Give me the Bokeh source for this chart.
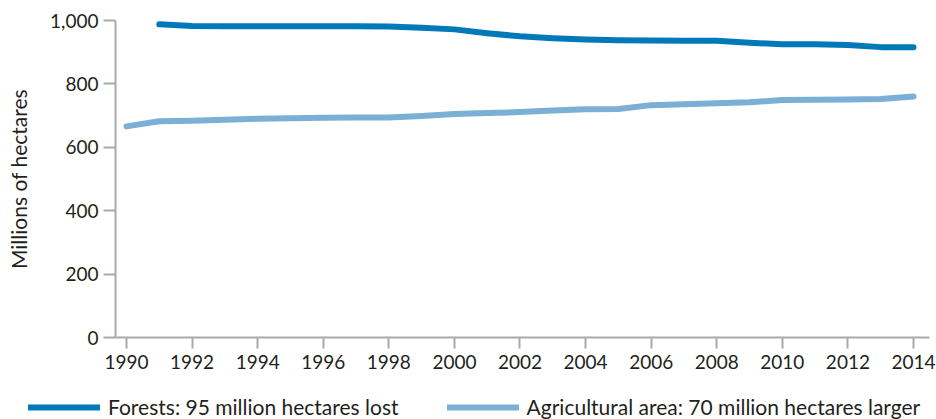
from bokeh.plotting import figure
from bokeh.layouts import column
from bokeh.models import Range1d, Legend, LegendItem, FixedTicker, NumeralTickFormatter
from bokeh.embed import file_html
from bokeh.resources import INLINE

# ---- data ----
forest_years = list(range(1991, 2015))
forest_values = [988, 983, 982, 982, 982, 982, 982, 981, 977, 972, 960, 950,
                 944, 940, 938, 937, 936, 936, 930, 925, 925, 923, 916, 916]

agri_years = list(range(1990, 2015))
agri_values = [666, 682, 684, 687, 690, 692, 693, 694, 694, 699, 705, 708, 711,
               716, 720, 721, 733, 736, 739, 742, 749, 750, 751, 752, 760]

x_ticks = list(range(1990, 2015, 2))
y_ticks = [0, 200, 400, 600, 800, 1000]

forest_label = "Forests: 95 million hectares lost"
agri_label = "Agricultural area: 70 million hectares larger"
y_label = "Millions of hectares"

# ---- style ----
FONT = "Lato"
TEXT = "#231f20"
AXIS = "#a7a9ac"
C_FOREST = "#0079b9"
C_AGRI = "#7bafd6"

p = figure(width=936, height=387, output_backend="svg", toolbar_location=None,
           x_range=Range1d(1989.6645, 2014.488), y_range=Range1d(0, 1000),
           min_border_left=115, min_border_right=7, min_border_top=20,
           min_border_bottom=50)
p.frame_align = False
p.outline_line_color = None
p.grid.visible = False

p.line(forest_years, forest_values, line_color=C_FOREST, line_width=6,
       line_cap="round", line_join="round")
p.line(agri_years, agri_values, line_color=C_AGRI, line_width=6,
       line_cap="round", line_join="round")

for ax in (p.xaxis[0], p.yaxis[0]):
    ax.axis_line_color = AXIS
    ax.axis_line_width = 2
    ax.major_tick_line_color = AXIS
    ax.major_tick_line_width = 2
    ax.major_tick_in = 0
    ax.minor_tick_line_color = None
    ax.major_label_text_font = FONT
    ax.major_label_text_font_size = "19px"
    ax.major_label_text_color = TEXT

p.xaxis.ticker = FixedTicker(ticks=x_ticks)
p.xaxis.major_tick_out = 11
p.xaxis.major_label_standoff = 6
p.yaxis.ticker = FixedTicker(ticks=y_ticks)
p.yaxis.formatter = NumeralTickFormatter(format="0,0")
p.yaxis.major_tick_out = 12
p.yaxis.major_label_standoff = 5

yax = p.yaxis[0]
yax.axis_label = y_label
yax.axis_label_text_font = FONT
yax.axis_label_text_font_size = "21px"
yax.axis_label_text_font_style = "normal"
yax.axis_label_text_color = TEXT
yax.axis_label_standoff = 16

# ---- legend strip below the chart (series drawn out of view, only keys show) ----
lp = figure(width=936, height=32, output_backend="svg", toolbar_location=None,
            x_range=Range1d(0, 1), y_range=Range1d(0, 1),
            x_axis_location=None, y_axis_location=None,
            min_border_left=0, min_border_right=0, min_border_top=0,
            min_border_bottom=0)
lp.frame_align = False
lp.grid.visible = False
lp.outline_line_color = None
k1 = lp.line(forest_years, forest_values, line_color=C_FOREST, line_width=6,
             line_cap="round")
k2 = lp.line(agri_years, agri_values, line_color=C_AGRI, line_width=6,
             line_cap="round")

legend = Legend(items=[LegendItem(label=forest_label, renderers=[k1]),
                       LegendItem(label=agri_label, renderers=[k2])],
                location=(28, 0), orientation="horizontal",
                glyph_width=72, glyph_height=20, label_height=20,
                label_standoff=8, spacing=48, padding=0, margin=0,
                border_line_color=None, background_fill_alpha=0,
                label_text_font=FONT, label_text_font_size="21px",
                label_text_color=TEXT)
lp.add_layout(legend, "center")

layout = column(p, lp, spacing=0)
open("out.html", "w").write(file_html(layout, INLINE))
